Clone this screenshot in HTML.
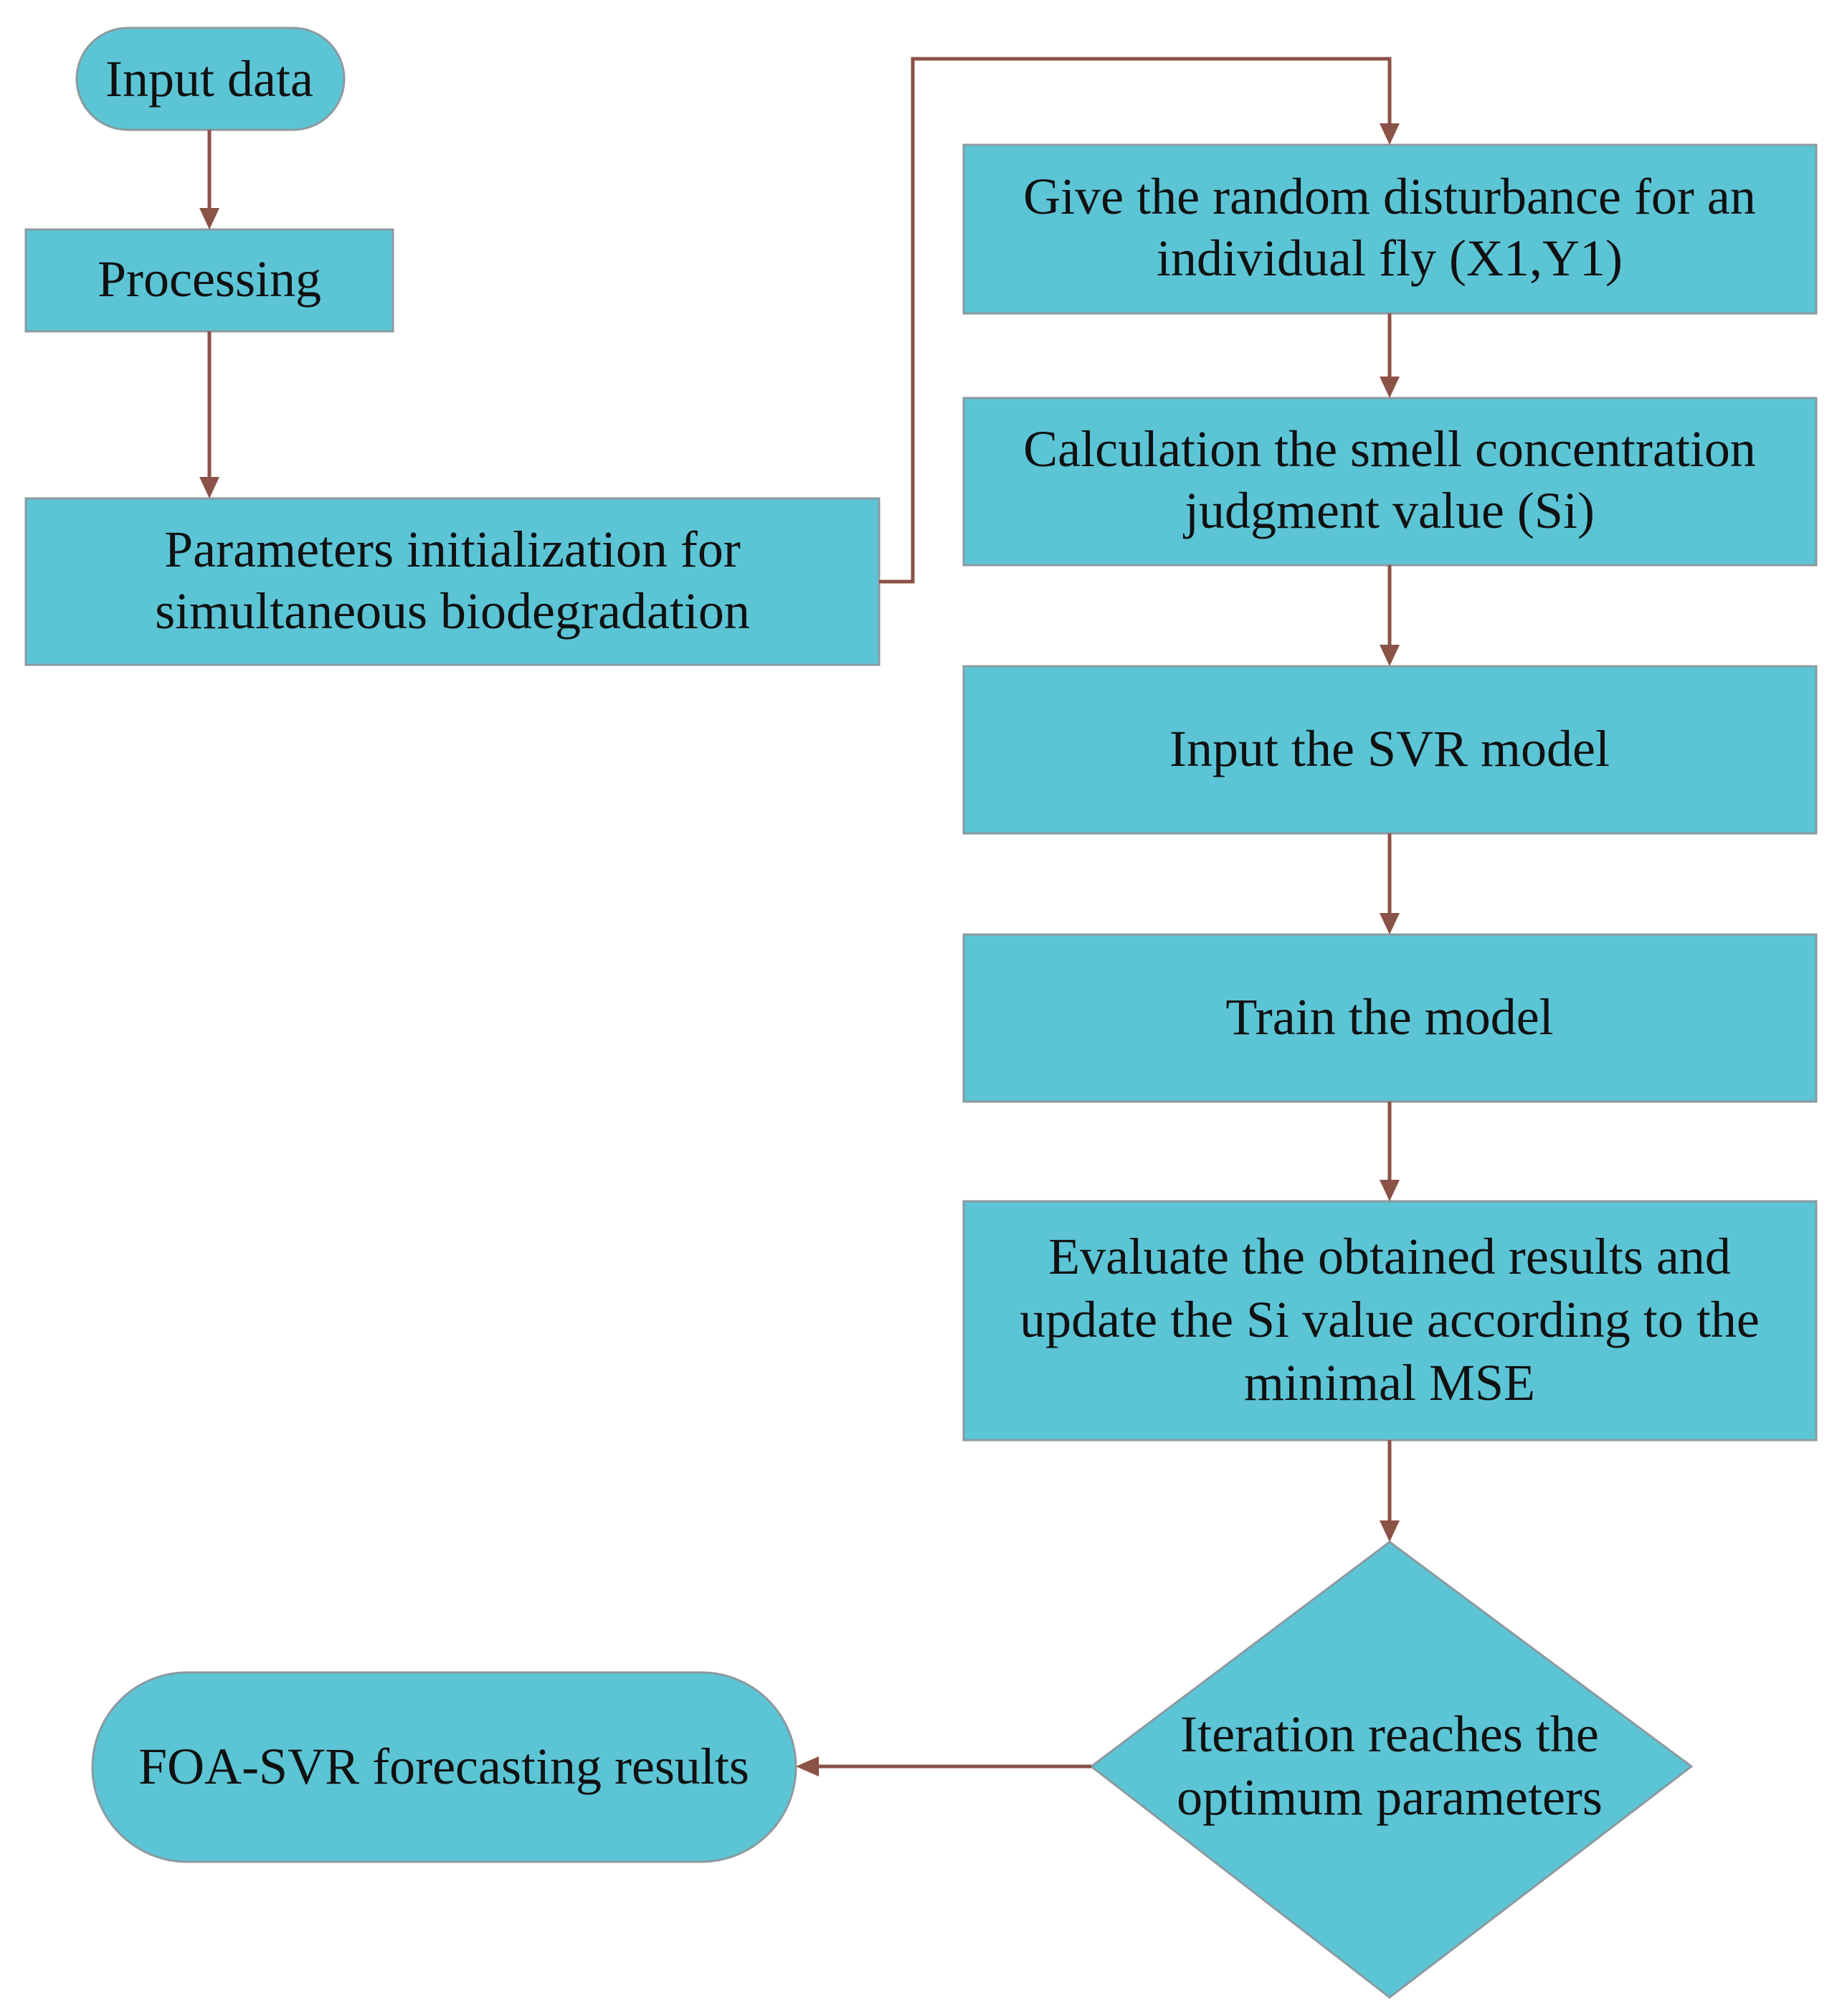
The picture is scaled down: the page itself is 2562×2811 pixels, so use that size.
<!DOCTYPE html>
<html><head><meta charset="utf-8"><style>
html,body{margin:0;padding:0;background:#fff;}
svg{display:block;}
text{font-family:"Liberation Serif",serif;font-size:72px;fill:#111;text-anchor:middle;}
</style></head><body>
<svg width="2562" height="2811" viewBox="0 0 2562 2811" xmlns="http://www.w3.org/2000/svg">
<g fill="#5BC5D6" stroke="#8a9aa0" stroke-width="3">
<rect x="107" y="39" width="373" height="142" rx="71"/>
<rect x="36" y="320" width="512" height="142"/>
<rect x="36" y="695" width="1190" height="232"/>
<rect x="1344" y="202" width="1189" height="235"/>
<rect x="1344" y="555" width="1189" height="233"/>
<rect x="1344" y="929" width="1189" height="233"/>
<rect x="1344" y="1303" width="1189" height="233"/>
<rect x="1344" y="1675" width="1189" height="333"/>
<polygon points="1938,2150 2359,2463 1938,2785 1522,2463"/>
<rect x="129" y="2332" width="981" height="264" rx="132"/>
</g>
<g stroke="#8B5247" stroke-width="5" fill="none">
<line x1="292" y1="181" x2="292" y2="292"/>
<line x1="292" y1="462" x2="292" y2="667"/>
<polyline points="1226,811 1273,811 1273,82 1938,82 1938,174"/>
<line x1="1938" y1="437" x2="1938" y2="527"/>
<line x1="1938" y1="788" x2="1938" y2="901"/>
<line x1="1938" y1="1162" x2="1938" y2="1275"/>
<line x1="1938" y1="1536" x2="1938" y2="1647"/>
<line x1="1938" y1="2008" x2="1938" y2="2122"/>
<line x1="1522" y1="2463" x2="1140" y2="2463"/>
</g>
<g fill="#8B5247">
<polygon points="278,290 306,290 292,320"/>
<polygon points="278,665 306,665 292,695"/>
<polygon points="1924,172 1952,172 1938,202"/>
<polygon points="1924,525 1952,525 1938,555"/>
<polygon points="1924,899 1952,899 1938,929"/>
<polygon points="1924,1273 1952,1273 1938,1303"/>
<polygon points="1924,1645 1952,1645 1938,1675"/>
<polygon points="1924,2120 1952,2120 1938,2150"/>
<polygon points="1142,2449 1142,2477 1110,2463"/>
</g>
<text x="292" y="134">Input data</text>
<text x="292" y="413">Processing</text>
<text x="631" y="790">Parameters initialization for</text>
<text x="631" y="876">simultaneous biodegradation</text>
<text x="1938" y="298">Give the random disturbance for an</text>
<text x="1938" y="384">individual fly (X1,Y1)</text>
<text x="1938" y="650">Calculation the smell concentration</text>
<text x="1938" y="736">judgment value (Si)</text>
<text x="1938" y="1068">Input the SVR model</text>
<text x="1938" y="1442">Train the model</text>
<text x="1938" y="1776">Evaluate the obtained results and</text>
<text x="1938" y="1864">update the Si value according to the</text>
<text x="1938" y="1952">minimal MSE</text>
<text x="1938" y="2442">Iteration reaches the</text>
<text x="1938" y="2530">optimum parameters</text>
<text x="619" y="2487">FOA-SVR forecasting results</text>
</svg>
</body></html>
